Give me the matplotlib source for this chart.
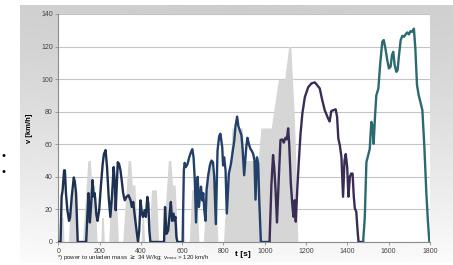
import numpy as np
import matplotlib
matplotlib.use("Agg")
import matplotlib.pyplot as plt

plt.rcParams['font.family'] = ['Liberation Sans', 'DejaVu Sans']

# NEDC (grey area): 4 x ECE urban + EUDC
nedc_t = [0, 11, 15, 23, 28, 49, 61, 85, 96, 117, 143, 155, 163, 176, 188,
          195, 206, 210, 218, 223, 244, 256, 280, 291, 312, 338, 350, 358, 371, 383,
          390, 401, 405, 413, 418, 439, 451, 475, 486, 507, 533, 545, 553, 566, 578,
          585, 596, 600, 608, 613, 634, 646, 670, 681, 702, 728, 740, 748, 761, 773,
          800, 806, 808, 817, 819, 832, 834, 841, 891, 899, 968, 981, 1031,
          1066, 1096, 1116, 1126, 1142, 1150, 1160, 1180]
nedc_v = [0, 0, 15, 15, 0, 0, 32, 32, 0, 0, 50, 50, 35, 35, 0,
          0, 0, 15, 15, 0, 0, 32, 32, 0, 0, 50, 50, 35, 35, 0,
          0, 0, 15, 15, 0, 0, 32, 32, 0, 0, 50, 50, 35, 35, 0,
          0, 0, 15, 15, 0, 0, 32, 32, 0, 0, 50, 50, 35, 35, 0,
          0, 15, 15, 35, 35, 50, 50, 70, 70, 50, 50, 70, 70,
          100, 100, 120, 120, 80, 50, 0, 0]

# WLTC class 3 - low phase
low_t = [0, 11, 16, 21, 28, 32, 37, 44, 52, 57, 65, 75, 80, 86, 94, 135,
         141, 146, 153, 158, 166, 171, 176, 179, 184, 190, 198, 206, 215, 221,
         229, 236, 244, 252, 260, 268, 273, 278, 288, 294, 301, 307, 314, 322,
         330, 340, 350, 356, 363, 369, 377, 386, 392, 398, 405, 410, 418, 424,
         431, 436, 441, 446, 512, 517, 524, 532, 540, 545, 551, 558, 563, 567,
         572, 577, 602]
low_v = [0, 0, 27.7, 31.8, 44, 44, 30, 19.5, 13, 15, 27.7, 39.6, 37, 30, 0, 0,
         17, 30, 12, 21, 38, 28, 30, 26, 17, 13, 19.5, 34, 48, 54,
         56.4, 46, 27.7, 15.4, 28, 46, 38, 19.5, 49, 48, 44, 38, 30, 25.6,
         27.7, 28.7, 25.6, 21.5, 24.6, 17.4, 9, 0, 7, 25.6, 17.4, 15.4, 19.5, 15.4,
         27.7, 23.6, 7, 0, 0, 21.5, 5, 7, 18.4, 24.6, 13, 17.4, 13, 15.4,
         3, 0, 0]

# medium phase
mid_t = [602, 608, 612, 618, 626, 634, 642, 649, 655, 661, 667, 675, 681, 686,
         691, 697, 702, 707, 713, 718, 726, 734, 742, 749, 755, 763, 771, 779,
         785, 794, 798, 803, 810, 816, 826, 836, 845, 852, 858, 866, 872, 879,
         887, 893, 900, 910, 916, 923, 931, 937, 944, 950, 955, 962, 968, 973,
         981, 1023]
mid_v = [0, 44, 48.6, 46, 48, 52, 55, 57, 52, 38, 12, 40, 21.5, 28,
         34, 25.6, 30, 19.5, 13, 32, 41, 47, 50, 49, 40, 11, 56, 65,
         66.5, 58, 47, 52, 44, 17.5, 42, 48, 56, 62, 71, 77, 71, 68.5,
         65.5, 56, 41, 58, 64, 60, 57, 56, 54, 50, 26, 52, 48, 26,
         0, 0]

# high phase
high_t = [1023, 1032, 1040, 1046, 1052, 1059, 1068, 1076, 1085, 1092, 1100,
          1107, 1113, 1118, 1126, 1134, 1139, 1145, 1150, 1157, 1165, 1173,
          1182, 1194, 1210, 1226, 1242, 1253, 1266, 1278, 1290, 1306, 1314,
          1322, 1333, 1343, 1350, 1356, 1363, 1371, 1379, 1386, 1392, 1399,
          1405, 1412, 1418, 1425, 1431, 1436, 1443, 1449, 1454, 1476]
high_v = [0, 35, 53.4, 45, 32, 12, 40, 62.6, 63, 61, 64,
          63, 69.8, 60.6, 36, 21.6, 15.5, 25.6, 12.5, 31.9, 50, 66.5,
          79, 89, 95, 97.4, 98, 96.4, 94.3, 87.2, 81, 76, 74,
          80.4, 81, 81.5, 77, 63.6, 59.6, 52.4, 27.8, 50, 54, 46,
          27.8, 40, 42, 42, 27.8, 20.7, 18.6, 7.4, 0, 0]

# extra high phase
xhigh_t = [1476, 1484, 1492, 1500, 1508, 1516, 1521, 1527, 1534, 1540, 1550,
           1559, 1569, 1576, 1584, 1593, 1601, 1609, 1616, 1622, 1629, 1637,
           1643, 1650, 1658, 1666, 1674, 1682, 1690, 1698, 1706, 1714, 1722,
           1729, 1737, 1745, 1753, 1763, 1773, 1782, 1790, 1797, 1800]
xhigh_v = [0, 14.5, 49, 53, 57, 73.7, 71.6, 60.3, 77.7, 90, 94.3,
           109.6, 123, 124, 118.9, 111.7, 106.6, 107.6, 114.8, 116.8, 108.6, 104.5,
           105.5, 114.8, 124, 126.6, 126, 127.5, 128.7, 127.5, 129.5, 129, 131,
           118.9, 96.4, 90.3, 86.2, 81, 57.5, 30.9, 12.5, 0, 0]

phases = [(low_t, low_v, '#1d3152'), (mid_t, mid_v, '#22406a'),
          (high_t, high_v, '#3a2d55'), (xhigh_t, xhigh_v, '#2b6a70')]

fig = plt.figure(figsize=(4.53, 2.65), dpi=100)

# grey gradient panel behind the chart
bg = fig.add_axes([20 / 453, 3 / 265, 433 / 453, 257 / 265], zorder=-5)
gy = np.linspace(0, 1, 100)[:, None]
gx = np.linspace(0, 1, 200)[None, :]
grad = 0.80 + 0.17 * gy ** 1.3 + 0.03 * np.abs(gx - 0.5)
bg.imshow(grad, cmap='gray', vmin=0, vmax=1, aspect='auto', origin='upper')
bg.axis('off')

ax = fig.add_axes([58.3 / 453, 23 / 265, 371.7 / 453, 228 / 265])
ax.set_facecolor('white')
ax.fill_between(nedc_t, nedc_v, 0, color='#d6d6d6', lw=0, zorder=1)
for t, v, c in phases:
    ax.plot(t, v, color=c, lw=1.7, zorder=3, solid_joinstyle='round')

ax.set_xlim(0, 1800)
ax.set_ylim(0, 140)
ax.set_xticks(np.arange(0, 1801, 200))
ax.set_yticks(np.arange(0, 141, 20))
ax.grid(axis='y', color='#c4c4c4', lw=0.8, zorder=0)
ax.set_axisbelow(True)
for s in ['top', 'right']:
    ax.spines[s].set_visible(False)
ax.spines['left'].set_color('#8c8c8c')
ax.spines['bottom'].set_color('#8c8c8c')
ax.spines['left'].set_linewidth(0.8)
ax.spines['bottom'].set_linewidth(0.8)
ax.tick_params(labelsize=5, colors='#8c8c8c', labelcolor='#444444',
               length=2, width=0.6, pad=2)

ax.set_ylabel('v [km/h]', fontsize=5.5, fontweight='bold', labelpad=6)
fig.text(243 / 453, 1 - 254 / 265, 't [s]', fontsize=6, fontweight='bold',
         ha='center', va='center')
fig.text(57 / 453, 1 - 258 / 265,
         r'*) power to unladen mass $\geq$ 34 W/kg; v$_{\rm max}$ > 120 km/h',
         fontsize=4.4, ha='left', va='center', color='#222222')
fig.text(4 / 453, 1 - 156 / 265, '\u2022', fontsize=8, ha='center', va='center')
fig.text(4 / 453, 1 - 172 / 265, '\u2022', fontsize=8, ha='center', va='center')

fig.savefig('out.png', dpi=100, facecolor='white')
